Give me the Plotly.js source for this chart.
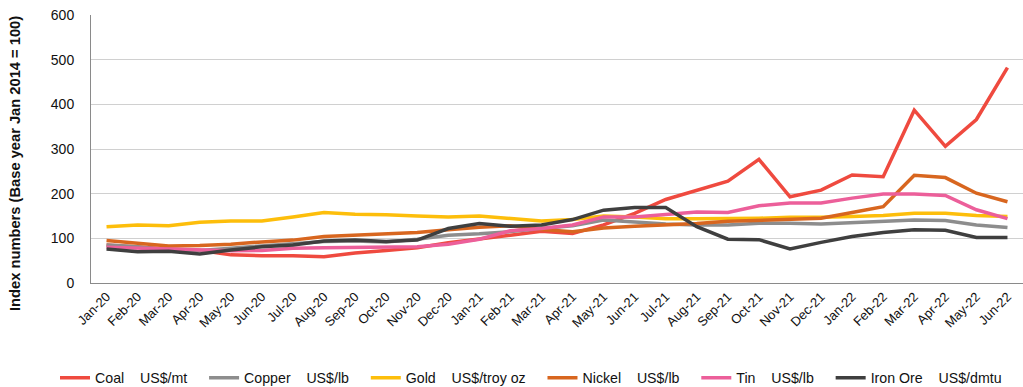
<!DOCTYPE html>
<html>
<head>
<meta charset="utf-8">
<script src="https://cdn.plot.ly/plotly-3.0.1.min.js"></script>
<style>html,body{margin:0;padding:0;background:#fff;}#chart{width:1023px;height:387px;}</style>
</head>
<body>
<div id="chart"></div>
<script>
const months = ["Jan-20","Feb-20","Mar-20","Apr-20","May-20","Jun-20","Jul-20","Aug-20","Sep-20","Oct-20","Nov-20","Dec-20",
  "Jan-21","Feb-21","Mar-21","Apr-21","May-21","Jun-21","Jul-21","Aug-21","Sep-21","Oct-21","Nov-21","Dec-21",
  "Jan-22","Feb-22","Mar-22","Apr-22","May-22","Jun-22"];

const coal    = [85,80,76,73,63,61,61,59,67,73,79,90,98,107,116,111,130,156,187,208,228,277,193,208,242,238,387,306,366,482];
const copper  = [85,81,74,73,78,83,87,93,94,92,98,107,110,115,122,128,141,137,132,130,130,134,134,132,135,138,141,140,130,124];
const gold    = [126,130,128,136,139,139,148,158,154,153,150,148,150,144,139,142,150,148,144,144,144,145,147,147,149,151,156,156,151,149];
const nickel  = [95,89,83,84,87,92,96,104,107,110,113,119,125,128,120,115,123,127,130,133,138,140,143,145,158,171,241,236,201,182];
const tin     = [80,78,76,73,72,73,78,79,80,81,81,87,98,117,122,130,148,148,154,159,158,173,179,179,190,199,199,196,164,144];
const ironOre = [76,70,71,65,74,81,85,94,96,93,96,122,133,127,130,142,163,169,169,126,98,97,76,91,104,113,119,118,102,102];

const commodities = ["Coal","Copper","Gold","Nickel","Tin","Iron Ore"];
const units = ["US$/mt","US$/lb","US$/troy oz","US$/lb","US$/lb","US$/dmtu"];
const yTitle = "Index numbers (Base year Jan 2014 = 100)";

const seriesData = [coal, copper, gold, nickel, tin, ironOre];
const colors = ["#EF4A3F","#8D8D8D","#FDBE0B","#D8661F","#EC5F9A","#3F3F3F"];
const SP = "\u00A0";

const traces = seriesData.map((d, i) => ({
  type: "scatter", mode: "lines", x: months, y: d,
  name: commodities[i] + SP.repeat(4) + units[i] + (i < seriesData.length - 1 ? SP.repeat(3) : ""),
  line: {color: colors[i], width: 3.5, shape: "linear"}
}));

const fam = "Liberation Sans, Arial, Helvetica, sans-serif";
const txt = "#111";

const layout = {
  width: 1023, height: 387,
  margin: {l: 91, r: 0, t: 15, b: 104, autoexpand: false},
  paper_bgcolor: "#fff", plot_bgcolor: "#fff",
  font: {family: fam, size: 14, color: txt},
  showlegend: true,
  legend: {orientation: "h", x: (55 - 91) / 932, xanchor: "left", y: -0.355, yanchor: "middle",
    font: {family: fam, size: 14.2, color: txt}, itemwidth: 30, tracegroupgap: 0},
  xaxis: {
    type: "category", range: [-0.5, 29.5], tickangle: -45,
    showline: true, linecolor: "#8a8a8a", linewidth: 1, showgrid: false, ticks: "",
    tickfont: {family: fam, size: 13, color: txt}
  },
  yaxis: {
    range: [0, 600], dtick: 100, showline: true, linecolor: "#8a8a8a", linewidth: 1,
    gridcolor: "#d0d0d0", gridwidth: 1, zeroline: false, ticks: "",
    ticklabelstandoff: 13,
    tickfont: {family: fam, size: 14, color: txt}
  },
  annotations: [{
    text: "<b>" + yTitle + "</b>", textangle: -90, showarrow: false,
    xref: "paper", yref: "paper", x: (15 - 91) / 932, y: (283 - 164) / 268,
    xanchor: "center", yanchor: "middle",
    font: {family: fam, size: 14.7, color: txt}
  }]
};

Plotly.newPlot("chart", traces, layout, {displayModeBar: false, staticPlot: true});
</script>
</body>
</html>
